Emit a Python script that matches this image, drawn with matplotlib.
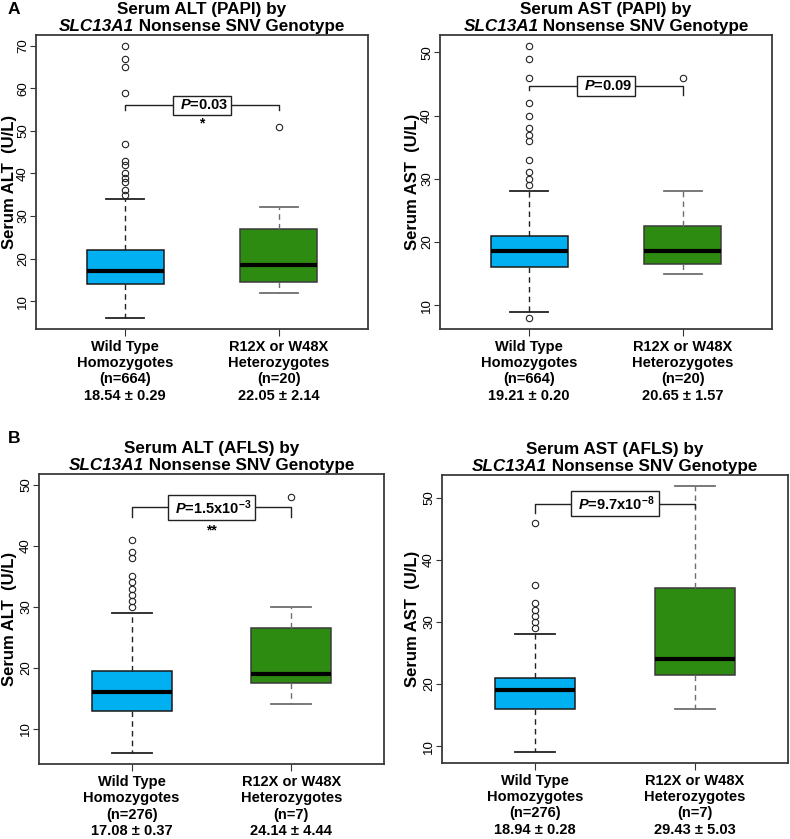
import matplotlib
matplotlib.use("Agg")
import matplotlib.pyplot as plt

plt.rcParams['font.family'] = ['Liberation Sans', 'DejaVu Sans']
plt.rcParams['mathtext.fontset'] = 'custom'
plt.rcParams['mathtext.it'] = 'Liberation Sans:italic:bold'
plt.rcParams['mathtext.bf'] = 'Liberation Sans:bold'
plt.rcParams['mathtext.rm'] = 'Liberation Sans:bold'
plt.rcParams['mathtext.default'] = 'rm'

# group names shared by all four panels
groups = ["Wild Type\nHomozygotes", "R12X or W48X\nHeterozygotes"]

# A, left: Serum ALT (PAPI)
alt_papi_n = [664, 20]
alt_papi_mean = [18.54, 22.05]
alt_papi_se = [0.29, 2.14]
alt_papi_q1 = [14, 14.5]
alt_papi_med = [17, 18.5]
alt_papi_q3 = [22, 27]
alt_papi_lo = [6, 12]
alt_papi_hi = [34, 32]
alt_papi_out = [[70, 67, 65, 59, 47, 43, 42, 40, 39, 38, 36, 35], [51]]

# A, right: Serum AST (PAPI)
ast_papi_n = [664, 20]
ast_papi_mean = [19.21, 20.65]
ast_papi_se = [0.20, 1.57]
ast_papi_q1 = [16, 16.6]
ast_papi_med = [18.6, 18.6]
ast_papi_q3 = [21, 22.6]
ast_papi_lo = [9, 15]
ast_papi_hi = [28, 28]
ast_papi_out = [[51, 49, 46, 42, 40, 38, 37, 36, 33, 31, 30, 29, 8], [46]]

# B, left: Serum ALT (AFLS)
alt_afls_n = [276, 7]
alt_afls_mean = [17.08, 24.14]
alt_afls_se = [0.37, 4.44]
alt_afls_q1 = [13, 17.5]
alt_afls_med = [16, 19]
alt_afls_q3 = [19.5, 26.5]
alt_afls_lo = [6, 14]
alt_afls_hi = [29, 30]
alt_afls_out = [[41, 39, 38, 35, 34, 33, 32, 31, 30], [48]]

# B, right: Serum AST (AFLS)
ast_afls_n = [276, 7]
ast_afls_mean = [18.94, 29.43]
ast_afls_se = [0.28, 5.03]
ast_afls_q1 = [16, 21.5]
ast_afls_med = [19, 24]
ast_afls_q3 = [21, 35.5]
ast_afls_lo = [9, 16]
ast_afls_hi = [28, 52]
ast_afls_out = [[46, 36, 33, 32, 31, 30, 29], []]

box_fill = ['#00B0F0', '#2E8B12']
box_edge = ['#1a1a1a', '#3a3a3a']
whisk_col = ['#222222', '#6e6e6e']

fig = plt.figure(figsize=(7.9, 8.39), dpi=100)
renderer = fig.canvas.get_renderer()


def two_part_title(ax, yoff, part1, part2, size):
    a = ax.annotate(part1, xy=(0.5, 1), xycoords='axes fraction', xytext=(0, yoff),
                    textcoords='offset points', ha='left', va='center', fontsize=size,
                    fontweight='bold', fontstyle='italic')
    b = ax.annotate(part2, xy=(0.5, 1), xycoords='axes fraction', xytext=(0, yoff),
                    textcoords='offset points', ha='left', va='center', fontsize=size,
                    fontweight='bold')
    w1 = a.get_window_extent(renderer).width
    w2 = b.get_window_extent(renderer).width
    k = 72.0 / fig.dpi
    a.xyann = (-(w1 + w2) / 2 * k, yoff)
    b.xyann = ((-(w1 + w2) / 2 + w1) * k, yoff)


def draw_panel(ax, title1, ylab, n, mean, se, q1, med, q3, lo, hi, out,
               ylim, yticks, ptxt, bracket, stars, star_y, ylab_x):
    stats = []
    for i in range(2):
        stats.append(dict(q1=q1[i], med=med[i], q3=q3[i], whislo=lo[i],
                          whishi=hi[i], fliers=out[i]))
    for i in range(2):
        ax.bxp([stats[i]], positions=[i + 1], widths=0.5, patch_artist=True,
               boxprops=dict(facecolor=box_fill[i], edgecolor=box_edge[i], linewidth=1.1),
               medianprops=dict(color='black', linewidth=3.0, solid_capstyle='butt'),
               whiskerprops=dict(color=whisk_col[i], linestyle=(0, (4, 3)), linewidth=1.0),
               capprops=dict(color=whisk_col[i], linewidth=1.3),
               capwidths=0.25,
               flierprops=dict(marker='o', markerfacecolor='none', markeredgecolor='#222222',
                               markersize=4.6, markeredgewidth=0.8, linestyle='none'),
               manage_ticks=False)
    ax.set_xlim(0.42, 2.58)
    ax.set_ylim(*ylim)
    ax.set_yticks(yticks)
    ax.tick_params(axis='y', labelrotation=90, labelsize=9.5, length=4, pad=1,
                   color='#333333')
    ax.set_xticks([1, 2])
    xlabels = [f"{groups[i]}\n(n={n[i]})\n{mean[i]:.2f} \u00b1 {se[i]:.2f}" for i in range(2)]
    ax.set_xticklabels(xlabels, fontweight='bold', fontsize=10.5, linespacing=1.2)
    ax.tick_params(axis='x', length=5, pad=3, color='#333333')
    for lab in ax.get_yticklabels():
        lab.set_verticalalignment('center')
    for sp in ax.spines.values():
        sp.set_color('#3a3a3a')
        sp.set_linewidth(1.3)
    ax.set_ylabel(ylab, fontweight='bold', fontsize=12, va='center')
    ax.yaxis.set_label_coords(ylab_x, 0.5)

    ax.annotate(title1, xy=(0.5, 1), xycoords='axes fraction', xytext=(0, 18.2),
                textcoords='offset points', ha='center', va='center',
                fontsize=12.3, fontweight='bold')
    two_part_title(ax, 6.4, 'SLC13A1', ' Nonsense SNV Genotype', 12.3)

    ytop, yl, yr = bracket
    ax.plot([1, 1, 2, 2], [yl, ytop, ytop, yr], color='#222222', linewidth=1.0)
    ax.text(1.5, ytop, ' ' + ptxt + ' ', ha='center', va='center', fontsize=10.5,
            fontweight='bold',
            bbox=dict(boxstyle='square,pad=0.2', facecolor='white', edgecolor='#222222',
                      linewidth=1.0))
    if stars:
        ax.text(1.5, star_y, stars, ha='center', va='baseline', fontsize=10, fontweight='bold')


ax1 = fig.add_axes([0.0456, 0.6079, 0.4203, 0.3504])
ax2 = fig.add_axes([0.557, 0.6079, 0.4203, 0.3504])
ax3 = fig.add_axes([0.0494, 0.0894, 0.4367, 0.3456])
ax4 = fig.add_axes([0.5595, 0.0906, 0.438, 0.3433])

draw_panel(ax1, 'Serum ALT (PAPI) by', 'Serum ALT  (U/L)', alt_papi_n, alt_papi_mean,
           alt_papi_se, alt_papi_q1, alt_papi_med, alt_papi_q3, alt_papi_lo, alt_papi_hi,
           alt_papi_out, (3.44, 72.56), [10, 20, 30, 40, 50, 60, 70],
           r'$\mathit{P}$=0.03', (56, 55, 55), '*', 50.8, -0.081)
draw_panel(ax2, 'Serum AST (PAPI) by', 'Serum AST  (U/L)', ast_papi_n, ast_papi_mean,
           ast_papi_se, ast_papi_q1, ast_papi_med, ast_papi_q3, ast_papi_lo, ast_papi_hi,
           ast_papi_out, (6.28, 52.72), [10, 20, 30, 40, 50],
           r'$\mathit{P}$=0.09', (44.7, 44.0, 43.3), '', 0, -0.083)
draw_panel(ax3, 'Serum ALT (AFLS) by', 'Serum ALT  (U/L)', alt_afls_n, alt_afls_mean,
           alt_afls_se, alt_afls_q1, alt_afls_med, alt_afls_q3, alt_afls_lo, alt_afls_hi,
           alt_afls_out, (4.24, 51.76), [10, 20, 30, 40, 50],
           r'$\mathit{P}$=1.5x$10^{-3}$', (46.3, 44.8, 44.8), '**', 41.9, -0.087)
draw_panel(ax4, 'Serum AST (AFLS) by', 'Serum AST  (U/L)', ast_afls_n, ast_afls_mean,
           ast_afls_se, ast_afls_q1, ast_afls_med, ast_afls_q3, ast_afls_lo, ast_afls_hi,
           ast_afls_out, (7.28, 53.72), [10, 20, 30, 40, 50],
           r'$\mathit{P}$=9.7x$10^{-8}$', (49.1, 47.6, 48.4), '', 0, -0.086)

fig.text(8 / 790, 1 - 10 / 839, 'A', fontsize=12.5, fontweight='bold', ha='left', va='center')
fig.text(8 / 790, 1 - 438 / 839, 'B', fontsize=12.5, fontweight='bold', ha='left', va='center')

fig.savefig('out.png', dpi=100)
